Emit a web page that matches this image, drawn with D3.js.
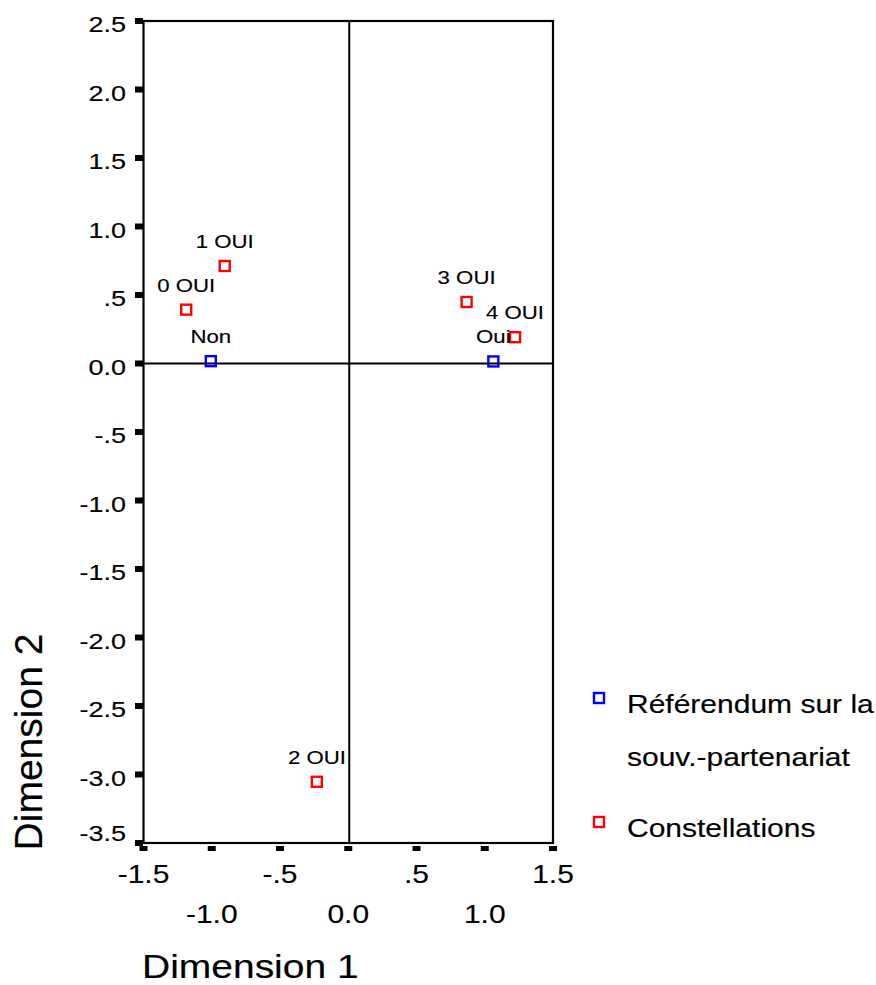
<!DOCTYPE html>
<html>
<head>
<meta charset="utf-8">
<script src="https://cdn.jsdelivr.net/npm/d3@7"></script>
<style>
    html, body { margin: 0; padding: 0; background: #fff; }
    svg { display: block; font-family: "Liberation Sans", Arial, sans-serif; }
    svg text { stroke: #000; stroke-width: 0.15px; }
</style>
</head>
<body>
<div id="chart"></div>
<script>
// category points (Référendum)
const refLabels = ["Non", "Oui"];
const refX = [-1.007, 1.063];
const refY = [0.017, 0.015];

// category points (Constellations)
const conLabels = ["0 OUI", "1 OUI", "2 OUI", "3 OUI", "4 OUI"];
const conX = [-1.187, -0.905, -0.23, 0.867, 1.222];
const conY = [0.393, 0.712, -3.053, 0.449, 0.192];

const xTicks = [-1.5, -1.0, -0.5, 0.0, 0.5, 1.0, 1.5];
const xTickLabels = ["-1.5", "-1.0", "-.5", "0.0", ".5", "1.0", "1.5"];
const yTicks = [2.5, 2.0, 1.5, 1.0, 0.5, 0.0, -0.5, -1.0, -1.5, -2.0, -2.5, -3.0, -3.5];
const yTickLabels = ["2.5", "2.0", "1.5", "1.0", ".5", "0.0", "-.5", "-1.0", "-1.5", "-2.0", "-2.5", "-3.0", "-3.5"];

const legendItems = [
    { lines: ["Référendum sur la", "souv.-partenariat"], color: "#0000ff" },
    { lines: ["Constellations"], color: "#ff0000" }
];

const width = 876, height = 985;
const SX = 1.2; // text in the source is drawn a bit wide

const svg = d3.select("#chart").append("svg")
    .attr("width", width)
    .attr("height", height);

const x = d3.scaleLinear().domain([-1.5, 1.5]).range([143.5, 553]);
const y = d3.scaleLinear().domain([-3.5, 2.5]).range([843, 21]);

function wideText(g, tx, ty, str, size, anchor) {
    return g.append("text")
        .attr("transform", "translate(" + tx + "," + ty + ") scale(" + SX + ",1)")
        .attr("text-anchor", anchor || "start")
        .attr("font-size", size)
        .attr("fill", "#000")
        .text(str);
}

// frame
svg.append("rect")
    .attr("x", x(-1.5)).attr("y", y(2.5))
    .attr("width", x(1.5) - x(-1.5))
    .attr("height", y(-3.5) - y(2.5))
    .attr("fill", "none")
    .attr("stroke", "#000")
    .attr("stroke-width", 2.2);

// zero lines
svg.append("line")
    .attr("x1", x(0) + 1).attr("x2", x(0) + 1)
    .attr("y1", y(2.5)).attr("y2", y(-3.5))
    .attr("stroke", "#000").attr("stroke-width", 2);
svg.append("line")
    .attr("x1", x(-1.5)).attr("x2", x(1.5))
    .attr("y1", y(0)).attr("y2", y(0))
    .attr("stroke", "#000").attr("stroke-width", 2);

// y ticks + labels
const yAxis = svg.append("g");
yTicks.forEach((v, i) => {
    yAxis.append("rect")
        .attr("x", x(-1.5) - 8.5).attr("y", y(v) - 3)
        .attr("width", 8).attr("height", 6)
        .attr("fill", "#000");
    let by = Math.min(y(v) + 11, y(-3.5) - 2);
    wideText(yAxis, 126, by, yTickLabels[i], 22.5, "end");
});

// x ticks + labels (alternating rows)
const xAxis = svg.append("g");
xTicks.forEach((v, i) => {
    xAxis.append("rect")
        .attr("x", x(v) - 4).attr("y", 846)
        .attr("width", 8).attr("height", 5)
        .attr("fill", "#000");
    wideText(xAxis, x(v), i % 2 === 0 ? 883 : 923, xTickLabels[i], 25, "middle");
});

// axis titles
wideText(svg, 142, 978, "Dimension 1", 32.5, "start");
svg.append("text")
    .attr("transform", "translate(42,742) rotate(-90)")
    .attr("text-anchor", "middle")
    .attr("font-size", 39)
    .attr("fill", "#000")
    .text("Dimension 2");

// points
function drawPoints(xs, ys, labels, color) {
    const g = svg.append("g");
    xs.forEach((v, i) => {
        g.append("rect")
            .attr("x", x(v) - 5).attr("y", y(ys[i]) - 5)
            .attr("width", 10).attr("height", 10)
            .attr("fill", "none")
            .attr("stroke", color)
            .attr("stroke-width", 2.4);
        wideText(g, x(v), y(ys[i]) - 18, labels[i], 18.5, "middle");
    });
}
drawPoints(conX, conY, conLabels, "#ff0000");
drawPoints(refX, refY, refLabels, "#0000ff");

// legend
const lg = svg.append("g");
const legendTops = [698, 822];
legendItems.forEach((item, i) => {
    lg.append("rect")
        .attr("x", 594).attr("y", legendTops[i] - 5)
        .attr("width", 10).attr("height", 10)
        .attr("fill", "none")
        .attr("stroke", item.color)
        .attr("stroke-width", 2.4);
    item.lines.forEach((ln, j) => {
        wideText(lg, 627, legendTops[i] + 14.5 + j * 53, ln, 25, "start");
    });
});
</script>
</body>
</html>
